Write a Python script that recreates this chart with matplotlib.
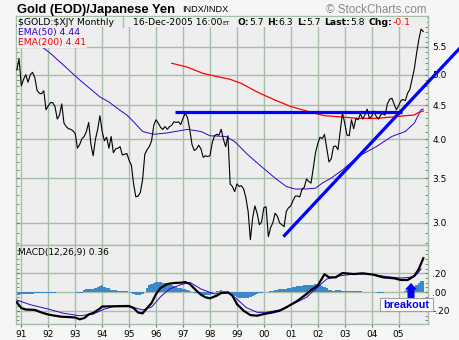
import matplotlib
matplotlib.use("Agg")
import matplotlib.pyplot as plt
import numpy as np
from matplotlib.patches import Rectangle, Polygon
from matplotlib.lines import Line2D
from matplotlib.ticker import FixedLocator, NullFormatter, FuncFormatter

# monthly closes of $GOLD:$XJY, first value is Nov 1990
price = [
    5.08, 5.28, 4.81, 4.92, 5.00, 4.87, 5.00, 5.04, 4.95, 4.74, 4.69, 4.68,
    4.73, 4.43, 4.49, 4.54, 4.54, 4.48, 4.29, 4.35, 4.52, 4.23, 4.18, 4.15,
    4.14, 4.12, 4.08, 3.88, 3.93, 4.01, 4.04, 4.11, 4.24, 3.93, 3.78, 4.00,
    4.14, 4.34, 4.11, 3.98, 4.03, 3.88, 4.04, 3.82, 3.87, 3.88, 3.90, 3.79,
    3.80, 3.81, 3.72, 3.66, 3.43, 3.28, 3.29, 3.33, 3.48, 3.80, 3.86, 3.90,
    3.98, 4.20, 4.28, 4.23, 4.17, 4.14, 4.18, 4.14, 4.18, 4.20, 4.25, 4.24,
    4.25, 4.21, 4.30, 4.38, 4.31, 4.14, 3.93, 3.85, 3.87, 3.92, 3.87, 3.76,
    3.78, 3.77, 3.78, 3.95, 4.05, 4.07, 4.06, 4.14, 4.00, 3.90, 4.05, 3.43,
    3.40, 3.34, 3.43, 3.40, 3.41, 3.37, 3.27, 3.12, 2.83, 3.05, 3.18, 3.10,
    2.98, 3.01, 3.16, 3.17, 2.86, 2.95, 3.00, 3.10, 3.07, 3.00, 2.98, 2.96,
    3.12, 3.16, 3.18, 3.24, 3.29, 3.29, 3.28, 3.37, 3.39, 3.49, 3.46, 3.44,
    3.62, 3.82, 3.94, 4.03, 4.01, 4.07, 3.88, 3.70, 3.74, 3.90, 3.91, 3.86,
    4.11, 4.38, 4.23, 4.06, 4.05, 4.28, 4.15, 4.30, 4.28, 4.37, 4.29, 4.35,
    4.44, 4.30, 4.33, 4.41, 4.33, 4.29, 4.35, 4.37, 4.35, 4.52, 4.59, 4.61,
    4.52, 4.43, 4.49, 4.57, 4.59, 4.57, 4.69, 4.75, 4.92, 5.10, 5.38, 5.64,
    5.85, 5.80,
]

# moving averages, sampled (months after Nov 1990)
ema50_mo = [0, 10, 15, 24, 28, 37, 41, 46, 49, 52, 56, 61, 67, 76, 82, 86, 93,
            97, 103, 109, 115, 120, 124, 128, 133, 136, 140, 145, 152, 160,
            167, 173, 177, 180, 181]
ema50_val = [5.92, 5.54, 5.38, 5.05, 4.91, 4.63, 4.55, 4.42, 4.35, 4.25, 4.11,
             4.07, 4.09, 4.14, 4.11, 4.05, 4.04, 3.97, 3.79, 3.64, 3.50, 3.40,
             3.37, 3.37, 3.38, 3.44, 3.50, 3.60, 3.77, 3.90, 4.04, 4.11, 4.23,
             4.43, 4.44]
ema200_mo = [69, 76, 83, 90, 95, 100, 107, 115, 122, 127, 131, 137, 145, 152,
             160, 167, 173, 177, 179, 181]
ema200_val = [5.20, 5.13, 5.02, 4.96, 4.92, 4.85, 4.71, 4.58, 4.48, 4.43, 4.39,
              4.34, 4.32, 4.30, 4.30, 4.32, 4.34, 4.35, 4.39, 4.41]

# MACD(12,26,9)
macd_mo = [0, 2, 4, 8, 11, 14, 17, 20, 23, 26, 28, 30, 32, 34, 37, 38, 42, 48,
           50, 52, 54, 56, 57, 60, 62, 64, 67, 70, 73, 75, 77, 80, 82, 84, 86,
           89, 91, 94, 96, 98, 101, 104, 107, 110, 114, 117, 120, 125, 129, 131,
           134, 137, 139, 142, 145, 150, 154, 159, 163, 168, 171, 174, 177, 179,
           181]
macd_val = [-0.11, -0.17, -0.186, -0.19, -0.218, -0.239, -0.252, -0.263, -0.266,
            -0.271, -0.29, -0.277, -0.239, -0.223, -0.176, -0.154, -0.152,
            -0.149, -0.149, -0.17, -0.218, -0.227, -0.199, -0.117, -0.021,
            0.043, 0.085, 0.096, 0.099, 0.106, 0.085, 0.014, -0.029, -0.056,
            -0.067, -0.039, -0.011, -0.003, -0.039, -0.128, -0.199, -0.245,
            -0.252, -0.234, -0.216, -0.199, -0.163, -0.093, -0.021, 0.021,
            0.067, 0.19, 0.156, 0.156, 0.202, 0.191, 0.199, 0.184, 0.156,
            0.146, 0.128, 0.128, 0.17, 0.245, 0.36]
signal_mo = [0, 6, 14, 21, 28, 34, 39, 43, 51, 56, 60, 62, 64, 68, 73, 77, 82,
             88, 92, 95, 98, 102, 107, 111, 117, 123, 129, 133, 138, 144, 150,
             157, 165, 171, 175, 178, 180]
signal_val = [-0.085, -0.135, -0.181, -0.227, -0.252, -0.234, -0.181, -0.156,
              -0.156, -0.191, -0.16, -0.106, -0.05, 0.032, 0.078, 0.103, 0.032,
              -0.021, -0.005, -0.021, -0.074, -0.163, -0.216, -0.216, -0.191,
              -0.128, -0.056, 0.032, 0.138, 0.173, 0.191, 0.191, 0.163, 0.149,
              0.156, 0.184, 0.245]
hist = [
    -0.03, -0.03, -0.025, -0.02, -0.02, -0.025, -0.02, -0.02,
    -0.015, -0.015, -0.012, -0.012,
    -0.008, -0.008, -0.008, -0.006, -0.006, -0.006, -0.005, -0.005,
    -0.003, -0.002, -0.002, 0.0, -0.002, -0.003, -0.003,
    -0.008, -0.01, -0.008,
    0.02, 0.028, 0.03, 0.035, 0.035, 0.04, 0.05, 0.06, 0.07,
    0.055, 0.045, 0.04,
    0.025, 0.02, 0.02, 0.015, 0.015, 0.012, 0.01, 0.008, 0.005,
    -0.01, -0.02, -0.03, -0.03, -0.028, -0.02, -0.005,
    0.04, 0.07, 0.09, 0.1, 0.105, 0.11, 0.105, 0.1,
    0.095, 0.09, 0.08, 0.07, 0.06, 0.05, 0.045, 0.04, 0.035,
    0.03, 0.025, 0.015,
    -0.005, -0.01, -0.015, -0.02, -0.03, -0.035, -0.035, -0.035, -0.03, -0.02,
    0.005, 0.01, 0.015, 0.02, 0.015, 0.005, -0.005, -0.01,
    -0.03, -0.045, -0.055, -0.06, -0.06, -0.065, -0.065, -0.06, -0.055, -0.045,
    -0.035, -0.025, -0.015, -0.01,
    0.0, 0.005, 0.005, 0.01, 0.015,
    0.02, 0.025, 0.03, 0.03, 0.035, 0.035, 0.04, 0.045, 0.05,
    0.055, 0.06, 0.065, 0.065, 0.07, 0.07, 0.075, 0.08, 0.08, 0.085, 0.09,
    0.07, 0.06, 0.05, 0.04,
    0.02, 0.02, 0.015, 0.02, 0.025, 0.02, 0.015, 0.01, 0.01, 0.012, 0.01,
    0.008, 0.008, 0.006, 0.006, 0.005, 0.005, 0.004, 0.004, 0.003, 0.003,
    -0.005, -0.007, -0.007, -0.007, -0.005,
    0.0, 0.002, 0.002, 0.002, 0.002, 0.002, 0.002, 0.002,
    0.01, 0.02, 0.035, 0.04, 0.05, 0.08, 0.1, 0.115, 0.12,
]

# drawn trend lines: (month, price) end points
resist_mo = [70.4, 171.4]
resist_val = [4.40, 4.40]
trend_mo = [118.7, 197.3]
trend_val = [2.86, 5.48]

years = list(range(1991, 2006))
year_labels = ["%02d" % (y % 100) for y in years]
price_ticks = [3.0, 3.5, 4.0, 4.5, 5.0, 5.5]
macd_ticks = [-0.2, 0.0, 0.2]

BG = "#F6F6F6"
PANEL = "#EEEEEE"
GRID = "#A8BEA8"
PURPLE = "#3300CC"
HISTC = "#3A8AC8"

W, H = 460, 340


def fx(x):
    return x / W


def fy(y):
    return 1 - y / H


T0 = 1990 + 10 / 12


def mdate(m):
    return T0 + np.asarray(m, dtype=float) / 12.0


plt.rcParams["font.family"] = "DejaVu Sans"

fig = plt.figure(figsize=(4.6, 3.4), dpi=100, facecolor=BG)
ax = fig.add_axes([fx(16), fy(245), (428 - 16) / W, (245 - 16) / H])
axm = fig.add_axes([fx(16), fy(324), (428 - 16) / W, (324 - 245) / H])

xlim = (1990.803, 2006.091)
for a in (ax, axm):
    a.set_facecolor(PANEL)
    a.set_xlim(*xlim)
    a.xaxis.set_major_locator(FixedLocator(years))
    a.grid(True, which="major", color=GRID, lw=1.0)
    a.set_axisbelow(True)
    for s in a.spines.values():
        s.set_color(GRID)
        s.set_linewidth(1.0)

# ---- price panel ----
ax.set_yscale("log")
ax.set_ylim(2.779, 6.12)
ax.yaxis.set_major_locator(FixedLocator(price_ticks))
ax.yaxis.set_major_formatter(FuncFormatter(lambda v, p: "%.1f" % v))
minors = [round(v, 1) for v in np.arange(2.8, 6.15, 0.1)]
ax.yaxis.set_minor_locator(FixedLocator(minors))
ax.yaxis.set_minor_formatter(NullFormatter())
ax.yaxis.tick_right()
ax.tick_params(axis="y", which="both", left=True, right=True, direction="in",
               length=2.5, color="#707070", labelsize=6.5, pad=3,
               labelcolor="black")
ax.tick_params(axis="x", which="both", length=0, labelbottom=False)

months = np.arange(len(price))
ax.plot(mdate(months), price, color="black", lw=0.8, zorder=4)
ax.plot(mdate(ema50_mo), ema50_val, color=PURPLE, lw=0.7, zorder=3)
ax.plot(mdate(ema200_mo), ema200_val, color="red", lw=0.9, zorder=3)
ax.plot(mdate(resist_mo), resist_val, color="#0000FF", lw=2.3,
        solid_capstyle="butt", zorder=5)
ax.plot(mdate(trend_mo), trend_val, color="#0000FF", lw=2.3,
        solid_capstyle="butt", zorder=5, clip_on=False)

# ---- MACD panel ----
axm.set_ylim(-0.34, 0.5)
axm.yaxis.set_major_locator(FixedLocator(macd_ticks))
axm.yaxis.set_major_formatter(FuncFormatter(
    lambda v, p: ("%.2f" % v).replace("0.", ".")))
axm.yaxis.set_minor_locator(FixedLocator(
    [round(v, 2) for v in np.arange(-0.3, 0.5, 0.05)]))
axm.yaxis.set_minor_formatter(NullFormatter())
axm.yaxis.tick_right()
axm.tick_params(axis="y", which="both", left=True, right=True, direction="in",
                length=2.5, color="#707070", labelsize=6.5, pad=3)
axm.set_xticklabels(year_labels)
axm.tick_params(axis="x", which="major", direction="out", length=2.5,
                color="#707070", labelsize=6.5, pad=1.5)

axm.bar(mdate(months), hist, width=1 / 12, color=HISTC, lw=0, zorder=2)
axm.plot(mdate(signal_mo), signal_val, color=PURPLE, lw=0.7, zorder=3)
axm.plot(mdate(macd_mo), macd_val, color="black", lw=1.6, zorder=4)

# ---- header and labels ----
renderer = fig.canvas.get_renderer()

fig.text(fx(17), fy(12.7), "Gold (EOD)/Japanese Yen", family="Liberation Sans",
         fontweight="bold", fontsize=9.3, va="baseline")
fig.text(fx(182), fy(11.8), "INDX/INDX", family="Liberation Sans",
         fontsize=6.6, va="baseline")
fig.text(fx(427), fy(12.7), "\u00a9 StockCharts.com", family="Liberation Sans",
         fontsize=8.4, color="#8A8A8A", va="baseline", ha="right")

# strip along the top of the price panel
fig.patches.append(Rectangle((fx(16.5), fy(27)), (411) / W, 10.5 / H,
                             transform=fig.transFigure, facecolor=PANEL,
                             edgecolor="none", zorder=1))
fig.lines.append(Line2D([fx(123), fx(123)], [fy(16), fy(27)],
                        transform=fig.transFigure, color=GRID, lw=1.0,
                        zorder=2))
fig.text(fx(18), fy(25), r"\$GOLD:\$XJY Monthly", fontsize=6.7,
         va="baseline", zorder=3)

pieces = [
    (0, "16-Dec-2005 16:00", "normal", "black", 6.7),
    (0, "ET", "normal", "black", 4.3),
    (8, "O:", "bold", "black", 6.7),
    (0, "5.7", "normal", "black", 6.7),
    (3.5, "H:", "bold", "black", 6.7),
    (0, "6.3", "normal", "black", 6.7),
    (3.5, "L:", "bold", "black", 6.7),
    (0, "5.7", "normal", "black", 6.7),
    (3.5, "Last:", "bold", "black", 6.7),
    (0, "5.8", "normal", "black", 6.7),
    (3.5, "Chg:", "bold", "black", 6.7),
    (0, "-0.1", "normal", "red", 6.7),
]
xpos = 133
for gap, s, wt, col, sz in pieces:
    xpos += gap
    t = fig.text(fx(xpos), fy(25), s, fontsize=sz, fontweight=wt, color=col,
                 va="baseline", zorder=3)
    xpos += t.get_window_extent(renderer).width

legend_box = dict(facecolor=PANEL, edgecolor="none", pad=0.6)
fig.text(fx(18), fy(35), "EMA(50) 4.44", fontsize=6.7, color=PURPLE,
         va="baseline", bbox=legend_box, zorder=3)
fig.text(fx(18), fy(45), "EMA(200) 4.41", fontsize=6.7, color="red",
         va="baseline", bbox=legend_box, zorder=3)
fig.text(fx(18), fy(255), "MACD(12,26,9) 0.36", fontsize=6.5, color="black",
         va="baseline", zorder=3)

# breakout arrow and label
arrow = [(411, 283), (417, 289.5), (414.5, 289.5), (414.5, 298),
         (407.5, 298), (407.5, 289.5), (405, 289.5)]
fig.patches.append(Polygon([(fx(a), fy(b)) for a, b in arrow],
                           transform=fig.transFigure, facecolor="#0000FF",
                           edgecolor="none", zorder=3))
fig.patches.append(Rectangle((fx(381), fy(311.5)), 53 / W, 13 / H,
                             transform=fig.transFigure, facecolor="#808080",
                             edgecolor="none", zorder=3))
fig.patches.append(Rectangle((fx(380), fy(310.5)), 53 / W, 13 / H,
                             transform=fig.transFigure, facecolor="white",
                             edgecolor="#A0A0A0", lw=0.8, zorder=3))
fig.text(fx(406.5), fy(307.5), "breakout", family="Liberation Sans",
         fontweight="bold", fontsize=7.8, color="#0000FF", ha="center",
         va="baseline", zorder=4)

fig.savefig("out.png", dpi=100, facecolor=BG)
